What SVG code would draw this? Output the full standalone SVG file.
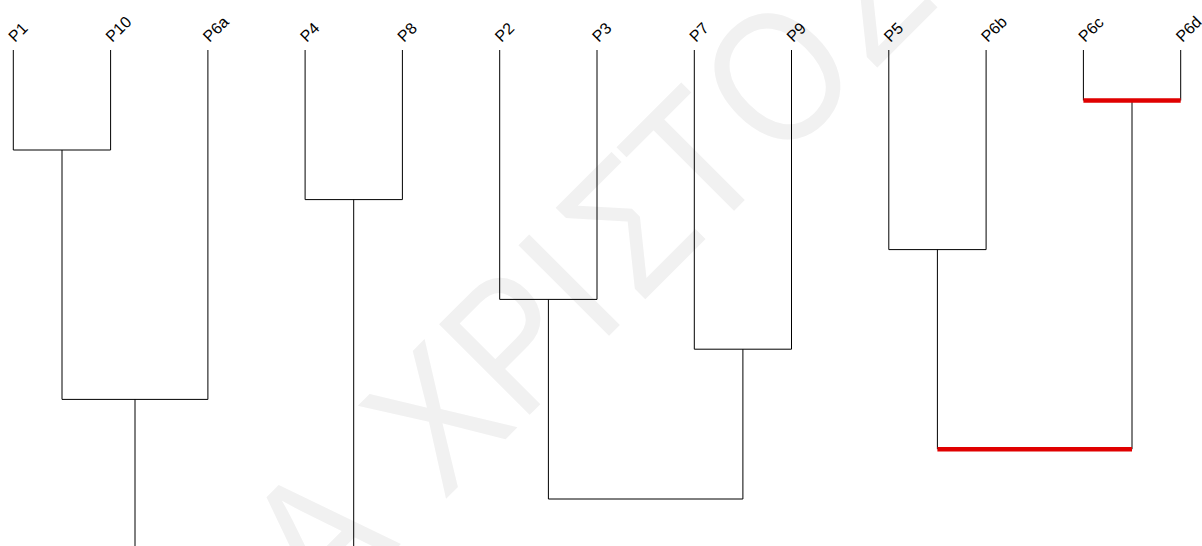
<svg xmlns="http://www.w3.org/2000/svg" width="1202" height="546" viewBox="0 0 1202 546">
<style>
.wm{font-family:"Liberation Sans",Arial,sans-serif;font-size:186px;fill:#f1f1f1;text-anchor:middle}
.lbl{font-family:"Liberation Sans",Arial,sans-serif;font-size:16px;fill:#000}
.e{stroke:#000;stroke-width:1;fill:none}
.r{stroke:#e00000;stroke-width:4.5;fill:none}
</style>
<rect width="1202" height="546" fill="#fff"/>
<g id="watermark" transform="rotate(-45) scale(0.87,1)">
<text class="wm" x="-178 15 140 231 329 434 570 706" y="668">ΑΧΡΙΣΤΟΣ</text>
</g>
<g id="connectors">
<path class="e" d="M13.3 50V150H110.6V50M62 150V399.4H207.9V50M135 399.4V546"/>
<path class="e" d="M305.1 50V199.6H402.4V50M353.7 199.6V546"/>
<path class="e" d="M499.7 50V299.4H597V50M548.4 299.4V499H742.9V349.2M694.3 50V349.2H791.5V50"/>
<path class="e" d="M888.8 50V249.6H986.1V50M937.4 249.6V449.2M1083.4 50V100.5M1180.7 50V100.5M1132 100.5V449.2"/>
<path class="r" d="M1083.4 100.5H1180.7M937.4 449.2H1132"/>
</g>
<g id="P1"><text class="lbl" transform="translate(15,43) rotate(-45)">P1</text></g>
<g id="P10"><text class="lbl" transform="translate(112.3,43) rotate(-45)">P10</text></g>
<g id="P6a"><text class="lbl" transform="translate(209.6,43) rotate(-45)">P6a</text></g>
<g id="P4"><text class="lbl" transform="translate(306.8,43) rotate(-45)">P4</text></g>
<g id="P8"><text class="lbl" transform="translate(404.1,43) rotate(-45)">P8</text></g>
<g id="P2"><text class="lbl" transform="translate(501.4,43) rotate(-45)">P2</text></g>
<g id="P3"><text class="lbl" transform="translate(598.7,43) rotate(-45)">P3</text></g>
<g id="P7"><text class="lbl" transform="translate(696,43) rotate(-45)">P7</text></g>
<g id="P9"><text class="lbl" transform="translate(793.2,43) rotate(-45)">P9</text></g>
<g id="P5"><text class="lbl" transform="translate(890.5,43) rotate(-45)">P5</text></g>
<g id="P6b"><text class="lbl" transform="translate(987.8,43) rotate(-45)">P6b</text></g>
<g id="P6c"><text class="lbl" transform="translate(1085.1,43) rotate(-45)">P6c</text></g>
<g id="P6d"><text class="lbl" transform="translate(1182.4,43) rotate(-45)">P6d</text></g>
</svg>
